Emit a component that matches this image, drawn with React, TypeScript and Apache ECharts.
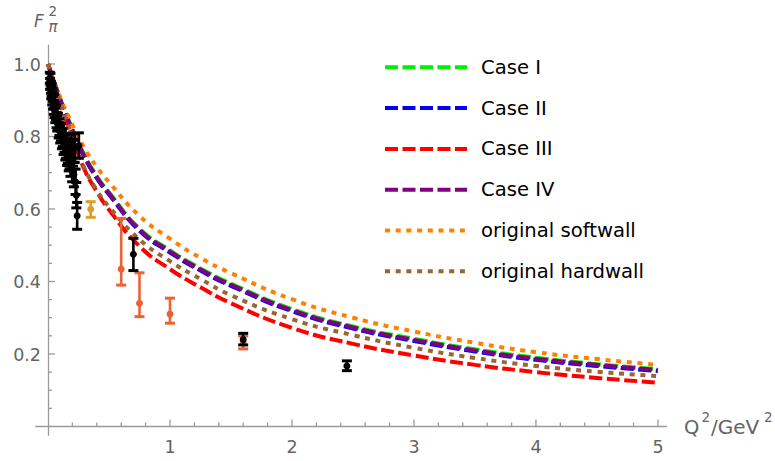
import React, { useEffect, useRef } from "react";
import * as echarts from "echarts";

// Q^2 grid for model curves
const qGrid = [0, 0.1, 0.2, 0.3, 0.4, 0.5, 0.75, 1, 1.25, 1.5, 2, 2.5, 3, 3.5, 4, 4.5, 5];
const caseIV = [1, 0.902, 0.818, 0.745, 0.688, 0.643, 0.543, 0.483, 0.433, 0.391, 0.321, 0.273, 0.239, 0.21, 0.187, 0.17, 0.156];
const caseI = [1, 0.904, 0.821, 0.748, 0.691, 0.646, 0.546, 0.486, 0.436, 0.394, 0.324, 0.276, 0.242, 0.213, 0.19, 0.172, 0.158];
const caseII = [1, 0.9, 0.815, 0.742, 0.685, 0.64, 0.54, 0.48, 0.43, 0.388, 0.318, 0.27, 0.236, 0.207, 0.184, 0.167, 0.153];
const caseIII = [1, 0.893, 0.795, 0.708, 0.648, 0.598, 0.497, 0.434, 0.384, 0.34, 0.272, 0.228, 0.196, 0.17, 0.15, 0.134, 0.121];
const softwall = [1, 0.908, 0.832, 0.767, 0.716, 0.674, 0.581, 0.518, 0.465, 0.423, 0.351, 0.3, 0.262, 0.231, 0.205, 0.186, 0.17];
const hardwall = [1, 0.895, 0.8, 0.712, 0.652, 0.606, 0.516, 0.456, 0.407, 0.362, 0.296, 0.252, 0.217, 0.189, 0.167, 0.151, 0.139];

// low-Q^2 data cluster: [Q2, F, error]
const clusterData = [
  [0.015, 0.962, 0.015], [0.017, 0.945, 0.015], [0.02, 0.958, 0.016], [0.025, 0.935, 0.016],
  [0.027, 0.921, 0.017], [0.03, 0.928, 0.017], [0.035, 0.905, 0.018], [0.038, 0.915, 0.018],
  [0.042, 0.893, 0.018], [0.047, 0.88, 0.019], [0.05, 0.897, 0.019], [0.055, 0.872, 0.02],
  [0.06, 0.858, 0.02], [0.065, 0.866, 0.02], [0.07, 0.845, 0.021], [0.076, 0.836, 0.021],
  [0.082, 0.842, 0.022], [0.088, 0.818, 0.022], [0.094, 0.826, 0.023], [0.1, 0.805, 0.023],
  [0.107, 0.812, 0.024], [0.114, 0.79, 0.024], [0.121, 0.797, 0.025], [0.128, 0.775, 0.025],
  [0.135, 0.782, 0.026], [0.142, 0.762, 0.027], [0.149, 0.768, 0.028], [0.156, 0.748, 0.028],
  [0.163, 0.755, 0.029], [0.17, 0.735, 0.03], [0.177, 0.742, 0.031], [0.184, 0.722, 0.032],
  [0.191, 0.77, 0.035], [0.198, 0.708, 0.033], [0.205, 0.755, 0.037], [0.212, 0.695, 0.034],
  [0.219, 0.768, 0.04], [0.226, 0.675, 0.035], [0.232, 0.638, 0.035], [0.239, 0.581, 0.037],
  [0.253, 0.775, 0.035],
];
// [Q2, F, low, high]
const goldData = [[0.35, 0.599, 0.577, 0.62]];
const tomatoData = [
  [0.6, 0.434, 0.39, 0.574],
  [0.75, 0.34, 0.303, 0.424],
  [1.0, 0.31, 0.285, 0.354],
  [1.6, 0.233, 0.214, 0.25],
];
const blackData = [
  [0.7, 0.475, 0.43, 0.519],
  [1.6, 0.24, 0.225, 0.257],
  [2.45, 0.167, 0.154, 0.181],
];

const xMajor = [1, 2, 3, 4, 5];
const xMinor = [0.2, 0.4, 0.6, 0.8, 1.2, 1.4, 1.6, 1.8, 2.2, 2.4, 2.6, 2.8, 3.2, 3.4, 3.6, 3.8, 4.2, 4.4, 4.6, 4.8];
const xLabels = ["1", "2", "3", "4", "5"];
const yMajor = [0.2, 0.4, 0.6, 0.8, 1.0];
const yMinor = [0.05, 0.1, 0.15, 0.25, 0.3, 0.35, 0.45, 0.5, 0.55, 0.65, 0.7, 0.75, 0.85, 0.9, 0.95];
const yLabels = ["0.2", "0.4", "0.6", "0.8", "1.0"];

const legendNames = ["Case I", "Case II", "Case III", "Case IV", "original softwall", "original hardwall"];

const FONT = '"DejaVu Sans", sans-serif';
const AXIS_COLOR = "#9a9a9a";
const LABEL_COLOR = "#646464";

function errorBars(data: number[][], color: string) {
  return {
    type: "custom",
    data,
    z: 5,
    clip: false,
    silent: true,
    renderItem: (params: any, api: any) => {
      const x = api.value(0);
      const c = api.coord([x, api.value(1)]);
      const lo = api.coord([x, api.value(2)]);
      const hi = api.coord([x, api.value(3)]);
      const cap = 10;
      return {
        type: "group",
        children: [
          { type: "line", shape: { x1: lo[0], y1: lo[1], x2: hi[0], y2: hi[1] }, style: { stroke: color, lineWidth: 2.6 } },
          { type: "line", shape: { x1: lo[0] - cap / 2, y1: lo[1], x2: lo[0] + cap / 2, y2: lo[1] }, style: { stroke: color, lineWidth: 3 } },
          { type: "line", shape: { x1: hi[0] - cap / 2, y1: hi[1], x2: hi[0] + cap / 2, y2: hi[1] }, style: { stroke: color, lineWidth: 3 } },
          { type: "circle", shape: { cx: c[0], cy: c[1], r: 3.5 }, style: { fill: color } },
        ],
      };
    },
  };
}

// axis ticks drawn through the axes' scales (inward pointing, Mathematica style)
function ticks(values: number[], dim: "x" | "y", len: number) {
  return {
    type: "custom",
    data: values.map((v) => [v]),
    z: 1,
    clip: false,
    silent: true,
    renderItem: (params: any, api: any) => {
      const v = api.value(0);
      const p = dim === "x" ? api.coord([v, 0]) : api.coord([0, v]);
      const shape = dim === "x"
        ? { x1: p[0], y1: p[1], x2: p[0], y2: p[1] - len }
        : { x1: p[0], y1: p[1], x2: p[0] + len, y2: p[1] };
      return { type: "line", shape, style: { stroke: AXIS_COLOR, lineWidth: 1.3 } };
    },
  };
}

function tickLabels(values: number[], labels: string[], dim: "x" | "y") {
  return {
    type: "custom",
    data: values.map((v, i) => [v, i]),
    z: 1,
    clip: false,
    silent: true,
    renderItem: (params: any, api: any) => {
      const v = api.value(0);
      const i = api.value(1);
      const p = dim === "x" ? api.coord([v, 0]) : api.coord([0, v]);
      return {
        type: "text",
        x: dim === "x" ? p[0] : p[0] - 7,
        y: dim === "x" ? p[1] + 20.5 : p[1] + 1,
        style: {
          text: labels[i],
          font: '17.5px "DejaVu Sans"',
          fill: LABEL_COLOR,
          align: dim === "x" ? "center" : "right",
          verticalAlign: "middle",
        },
      };
    },
  };
}

function curve(name: string, values: number[], color: string, dash: number[]) {
  return {
    type: "line",
    name,
    data: qGrid.map((q, i) => [q, values[i]]),
    symbol: "none",
    showSymbol: false,
    smooth: 0.5,
    z: 2,
    silent: true,
    itemStyle: { color },
    lineStyle: { color, width: 4, type: dash, cap: "butt" },
  };
}

export default function App() {
  const ref = useRef<HTMLDivElement>(null);
  useEffect(() => {
    if (!ref.current) return;
    const chart = echarts.init(ref.current, undefined, { renderer: "svg" });
    const dashed = [13, 4.5];
    const dotted = [5, 5.7];
    const clusterRows = clusterData.map((d) => [d[0], d[1], d[1] - d[2], d[1] + d[2]]);
    const option: any = {
      animation: false,
      backgroundColor: "#ffffff",
      grid: { left: 35.8, right: 108.5, top: 45.1, bottom: 25.8, containLabel: false },
      xAxis: {
        type: "value",
        min: -0.1,
        max: 5.07,
        axisLine: { show: true, onZero: true, lineStyle: { color: AXIS_COLOR, width: 1.3 } },
        axisTick: { show: false },
        axisLabel: { show: false },
        splitLine: { show: false },
      },
      yAxis: {
        type: "value",
        min: -0.024,
        max: 1.052,
        axisLine: { show: true, onZero: true, lineStyle: { color: AXIS_COLOR, width: 1.3 } },
        axisTick: { show: false },
        axisLabel: { show: false },
        splitLine: { show: false },
      },
      legend: {
        orient: "vertical",
        left: 383,
        top: 54.8,
        padding: 0,
        itemWidth: 82,
        itemHeight: 20,
        itemGap: 15.8,
        selectedMode: false,
        data: legendNames,
        itemStyle: { color: "transparent", borderColor: "transparent", borderWidth: 0 },
        lineStyle: { width: 4 },
        textStyle: { fontSize: 19.6, color: "#000", fontFamily: FONT, lineHeight: 20, padding: [5, 0, 0, 9] },
      },
      graphic: [
        { type: "text", x: 34, y: 21, style: { text: "F", font: 'italic 17px "DejaVu Sans"', fill: LABEL_COLOR, verticalAlign: "middle", align: "left" } },
        { type: "text", x: 48.5, y: 10.5, style: { text: "2", font: '13.5px "DejaVu Sans"', fill: LABEL_COLOR, verticalAlign: "middle", align: "left" } },
        { type: "text", x: 48.5, y: 26.5, style: { text: "π", font: 'italic 15px "DejaVu Sans"', fill: LABEL_COLOR, verticalAlign: "middle", align: "left" } },
        { type: "text", x: 684, y: 427, style: { text: "Q", font: '19.5px "DejaVu Sans"', fill: LABEL_COLOR, verticalAlign: "middle", align: "left" } },
        { type: "text", x: 701.5, y: 417, style: { text: "2", font: '13.5px "DejaVu Sans"', fill: LABEL_COLOR, verticalAlign: "middle", align: "left" } },
        { type: "text", x: 711, y: 427, style: { text: "/GeV", font: '20px "DejaVu Sans"', fill: LABEL_COLOR, verticalAlign: "middle", align: "left" } },
        { type: "text", x: 764, y: 417, style: { text: "2", font: '13.5px "DejaVu Sans"', fill: LABEL_COLOR, verticalAlign: "middle", align: "left" } },
      ],
      series: [
        ticks(xMajor, "x", 7),
        ticks(xMinor, "x", 4),
        ticks(yMajor, "y", 7),
        ticks(yMinor, "y", 4),
        tickLabels(xMajor, xLabels, "x"),
        tickLabels(yMajor, yLabels, "y"),
        curve("Case I", caseI, "#00ee00", dashed),
        curve("Case II", caseII, "#0000ff", dashed),
        curve("Case III", caseIII, "#ff0000", dashed),
        curve("Case IV", caseIV, "#800080", dashed),
        curve("original softwall", softwall, "#ff8000", dotted),
        curve("original hardwall", hardwall, "#996633", dotted),
        errorBars(clusterRows, "#000000"),
        errorBars(goldData, "#e19c24"),
        errorBars(tomatoData, "#eb6235"),
        errorBars(blackData, "#000000"),
      ],
    };
    chart.setOption(option);
    return () => chart.dispose();
  }, []);
  return <div ref={ref} style={{ position: "absolute", left: 0, top: 0, width: 775, height: 461 }} />;
}
